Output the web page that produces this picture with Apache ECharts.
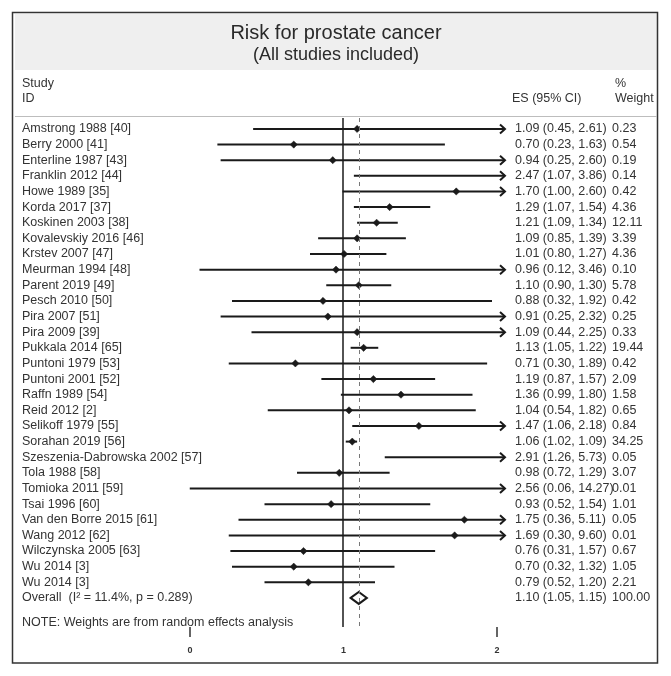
<!DOCTYPE html>
<html>
<head>
<meta charset="utf-8">
<script src="https://cdn.jsdelivr.net/npm/echarts@6/dist/echarts.min.js"></script>
<style>
html,body{margin:0;padding:0;background:#fff;}
#chart{width:671px;height:676px;}
</style>
</head>
<body>
<div id="chart"></div>
<script>
const studies = ["Amstrong 1988 [40]","Berry 2000 [41]","Enterline 1987 [43]","Franklin 2012 [44]","Howe 1989 [35]","Korda 2017 [37]","Koskinen 2003 [38]","Kovalevskiy 2016 [46]","Krstev 2007 [47]","Meurman 1994 [48]","Parent 2019 [49]","Pesch 2010 [50]","Pira 2007 [51]","Pira 2009 [39]","Pukkala 2014 [65]","Puntoni 1979 [53]","Puntoni 2001 [52]","Raffn 1989 [54]","Reid 2012 [2]","Selikoff 1979 [55]","Sorahan 2019 [56]","Szeszenia-Dabrowska 2002 [57]","Tola 1988 [58]","Tomioka 2011 [59]","Tsai 1996 [60]","Van den Borre 2015 [61]","Wang 2012 [62]","Wilczynska 2005 [63]","Wu 2014 [3]","Wu 2014 [3]"];
const es = [1.09,0.70,0.94,2.47,1.70,1.29,1.21,1.09,1.01,0.96,1.10,0.88,0.91,1.09,1.13,0.71,1.19,1.36,1.04,1.47,1.06,2.91,0.98,2.56,0.93,1.75,1.69,0.76,0.70,0.79];
const lower = [0.45,0.23,0.25,1.07,1.00,1.07,1.09,0.85,0.80,0.12,0.90,0.32,0.25,0.44,1.05,0.30,0.87,0.99,0.54,1.06,1.02,1.26,0.72,0.06,0.52,0.36,0.30,0.31,0.32,0.52];
const upper = [2.61,1.63,2.60,3.86,2.60,1.54,1.34,1.39,1.27,3.46,1.30,1.92,2.32,2.25,1.22,1.89,1.57,1.80,1.82,2.18,1.09,5.73,1.29,14.27,1.54,5.11,9.60,1.57,1.32,1.20];
const weights = ["0.23","0.54","0.19","0.14","0.42","4.36","12.11","3.39","4.36","0.10","5.78","0.42","0.25","0.33","19.44","0.42","2.09","1.58","0.65","0.84","34.25","0.05","3.07","0.01","1.01","0.05","0.01","0.67","1.05","2.21"];
const overallLabel = "Overall  (I\u00B2 = 11.4%, p = 0.289)";
const overall = {es: 1.10, lo: 1.05, hi: 1.15, weight: "100.00"};
const tickLabels = [0, 1, 2];
const tickMarks = [0, 2];
const refLine = 1;

const FONT = '"Liberation Sans", Arial, Helvetica, sans-serif';
const TXT = '#333333';
const INK = '#1a1a1a';
const X_MIN = 0, X_MAX = 2.0;

const rows = studies.map((s, i) => [i, es[i], lower[i], upper[i], 0]);
rows.push([studies.length, overall.es, overall.lo, overall.hi, 1]);
const labels = studies.concat([overallLabel]);
const fmt = v => v.toFixed(2);
const esText = studies.map((s, i) => fmt(es[i]) + ' (' + fmt(lower[i]) + ', ' + fmt(upper[i]) + ')')
  .concat([fmt(overall.es) + ' (' + fmt(overall.lo) + ', ' + fmt(overall.hi) + ')']);
const wText = weights.concat([overall.weight]);

function txt(text, x, y) {
  return {type: 'text', style: {text: text, x: x, y: y, fill: TXT, fontSize: 12.5, fontFamily: FONT,
    align: 'left', verticalAlign: 'middle'}, z2: 20};
}

function renderItem(params, api) {
  const i = api.value(0), e = api.value(1), lo = api.value(2), hi = api.value(3), kind = api.value(4);
  const idx = params.dataIndex;
  const children = [];
  const yc = api.coord([e, i])[1];
  if (kind === 0) {
    const loC = Math.max(lo, X_MIN), hiC = Math.min(hi, X_MAX);
    const p1 = api.coord([loC, i]), p2 = api.coord([hiC, i]);
    children.push({type: 'line', shape: {x1: p1[0], y1: p1[1], x2: p2[0], y2: p2[1]},
      style: {stroke: INK, lineWidth: 2}, z2: 5});
    if (hi > X_MAX) {
      children.push({type: 'polyline', shape: {points: [[p2[0] - 5, p2[1] - 4.5], [p2[0], p2[1]], [p2[0] - 5, p2[1] + 4.5]]},
        style: {stroke: INK, lineWidth: 2, fill: null}, z2: 5});
    }
    if (e >= X_MIN && e <= X_MAX) {
      const c = api.coord([e, i]);
      children.push({type: 'polygon', shape: {points: [[c[0] - 3.6, c[1]], [c[0], c[1] - 3.6], [c[0] + 3.6, c[1]], [c[0], c[1] + 3.6]]},
        style: {fill: INK, stroke: INK, lineWidth: 0.5}, z2: 6});
    }
  } else {
    const a = api.coord([lo, i]), c = api.coord([e, i]), b = api.coord([hi, i]);
    children.push({type: 'polygon', shape: {points: [[a[0], a[1]], [c[0], c[1] - 6], [b[0], b[1]], [c[0], c[1] + 6]]},
      style: {fill: '#ffffff', stroke: INK, lineWidth: 2}, z2: 100});
  }
  children.push(txt(labels[idx], 22, yc));
  children.push(txt(esText[idx], 515, yc));
  children.push(txt(wText[idx], 612, yc));
  return {type: 'group', children: children};
}

const chart = echarts.init(document.getElementById('chart'), null, {renderer: 'canvas'});
chart.setOption({
  animation: false,
  backgroundColor: '#ffffff',
  grid: {left: 180, right: 166, top: 118, bottom: 49},
  xAxis: [
    {type: 'value', min: X_MIN, max: X_MAX, show: false},
    {type: 'value', min: -0.0651, max: 2.0521, position: 'bottom', show: true,
      axisLine: {show: false},
      splitLine: {show: false},
      axisTick: {show: true, customValues: tickMarks, length: 10, lineStyle: {color: '#333', width: 1.5}},
      axisLabel: {customValues: tickLabels, margin: 19, fontSize: 9, fontWeight: 'bold', color: '#333', fontFamily: FONT}}
  ],
  yAxis: {type: 'value', inverse: true, min: -0.7, max: 31.86, show: false},
  graphic: [
    {type: 'rect', shape: {x: 15, y: 14, width: 642, height: 56}, style: {fill: '#efefef'}, z: -1},
    {type: 'rect', shape: {x: 12.5, y: 12.5, width: 645, height: 650.5}, style: {fill: null, stroke: '#333', lineWidth: 1.5}},
    {type: 'line', shape: {x1: 15, y1: 116.5, x2: 657, y2: 116.5}, style: {stroke: '#bdbdbd', lineWidth: 1}},
    {type: 'text', style: {text: 'Risk for prostate cancer', x: 336, y: 33, fill: '#2a2a2a', fontSize: 20, fontFamily: FONT, align: 'center', verticalAlign: 'middle'}},
    {type: 'text', style: {text: '(All studies included)', x: 336, y: 55, fill: '#2a2a2a', fontSize: 18, fontFamily: FONT, align: 'center', verticalAlign: 'middle'}},
    {type: 'text', style: {text: 'Study', x: 22, y: 84, fill: TXT, fontSize: 12.5, fontFamily: FONT, align: 'left', verticalAlign: 'middle'}},
    {type: 'text', style: {text: 'ID', x: 22, y: 99, fill: TXT, fontSize: 12.5, fontFamily: FONT, align: 'left', verticalAlign: 'middle'}},
    {type: 'text', style: {text: 'ES (95% CI)', x: 512, y: 99, fill: TXT, fontSize: 12.5, fontFamily: FONT, align: 'left', verticalAlign: 'middle'}},
    {type: 'text', style: {text: '%', x: 615, y: 84, fill: TXT, fontSize: 12.5, fontFamily: FONT, align: 'left', verticalAlign: 'middle'}},
    {type: 'text', style: {text: 'Weight', x: 615, y: 99, fill: TXT, fontSize: 12.5, fontFamily: FONT, align: 'left', verticalAlign: 'middle'}},
    {type: 'text', style: {text: 'NOTE: Weights are from random effects analysis', x: 22, y: 623, fill: TXT, fontSize: 12.5, fontFamily: FONT, align: 'left', verticalAlign: 'middle'}}
  ],
  series: [{
    type: 'custom',
    xAxisIndex: 0,
    yAxisIndex: 0,
    clip: false,
    renderItem: renderItem,
    encode: {x: [1, 2, 3], y: 0},
    data: rows,
    markLine: {
      silent: true,
      symbol: ['none', 'none'],
      label: {show: false},
      data: [
        {xAxis: refLine, lineStyle: {color: INK, width: 1.5, type: 'solid'}},
        {xAxis: overall.es, lineStyle: {color: '#777', width: 1, type: [4, 4]}}
      ]
    }
  }]
});
</script>
</body>
</html>
